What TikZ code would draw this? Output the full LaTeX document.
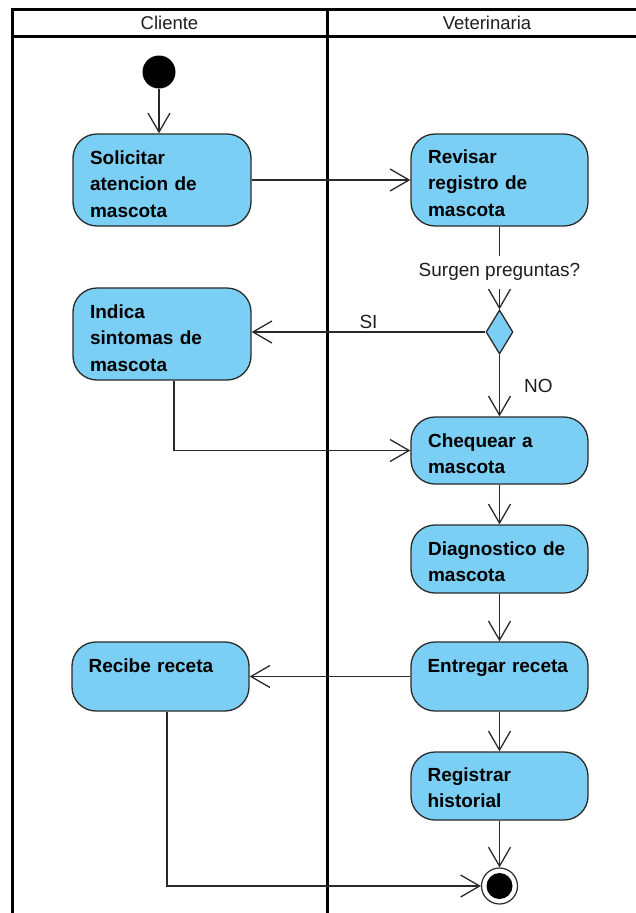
\documentclass[tikz,border=0pt]{standalone}
\usepackage{fontspec}
\setmainfont{Liberation Sans}
\usetikzlibrary{arrows.meta,shapes.geometric,calc}

\definecolor{actfill}{HTML}{7BCFF4}
\definecolor{edgegray}{HTML}{2A2A2A}
\definecolor{inkgray}{HTML}{1E1E1E}

\tikzset{
  lane/.style={line width=3pt, black, line join=miter},
  hdr/.style={inner sep=0pt, font=\fontsize{18.5}{22}\selectfont, text=inkgray},
  act/.style={draw=edgegray, line width=1.3pt, fill=actfill, rounded corners=24pt,
              inner sep=0pt, minimum width=177pt},
  acttext/.style={anchor=base west, inner sep=0pt, text width=150pt, align=left,
                  font=\bfseries\fontsize{19}{26.5}\selectfont, text=black},
  decision/.style={diamond, draw=edgegray, line width=1.3pt, fill=actfill,
                   inner sep=0pt, minimum width=27pt, minimum height=44pt},
  flow/.style={draw=edgegray, line width=1.3pt,
               -{Straight Barb[length=19pt,width=22pt,line width=1.3pt]}},
  guard/.style={inner sep=0pt, font=\fontsize{19}{22}\selectfont, text=inkgray},
}

\begin{document}
\begin{tikzpicture}[x=1pt,y=-1pt]
\useasboundingbox (0,0) rectangle (635,913);

% swimlanes
\draw[lane] (12,913) -- (12,9) -- (637,9);
\draw[lane] (12,36) -- (637,36);
\draw[lane] (327,9) -- (327,913);
\node[hdr] (hcli) at (169.5,22.5) {Cliente};
\node[hdr] (hvet) at (487,22.5) {Veterinaria};

% initial and final states
\node[circle, fill=black, minimum size=33pt, inner sep=0pt] (start) at (159,72) {};
\node[circle, draw=edgegray, fill=white, line width=1.2pt, minimum size=36pt, inner sep=0pt] (end) at (499.5,886) {};
\fill[black] (end.center) circle (13pt);

% activities
\node[act, minimum width=178pt, minimum height=92pt] (sol) at (162,180) {};
\node[act, minimum height=92pt] (rev) at (499.5,180) {};
\node[act, minimum width=178pt, minimum height=92pt] (ind) at (162,334) {};
\node[decision] (dec) at (499.5,332) {};
\node[act, minimum height=67pt] (cheq) at (499.5,450.5) {};
\node[act, minimum height=68pt] (diag) at (499.5,559) {};
\node[act, minimum height=69pt] (entr) at (499.5,676.5) {};
\node[act, minimum height=69pt] (rec) at (160.5,676.5) {};
\node[act, minimum height=68pt] (reg) at (499.5,786) {};

% activity texts
\node[acttext] (solt) at ([xshift=17.5pt,yshift=-31pt]sol.north west) {Solicitar\\atencion de\\mascota};
\node[acttext] (revt) at ([xshift=17.5pt,yshift=-30pt]rev.north west) {Revisar\\registro de\\mascota};
\node[acttext] (indt) at ([xshift=17.5pt,yshift=-31pt]ind.north west) {Indica\\sintomas de\\mascota};
\node[acttext] (cheqt) at ([xshift=17.5pt,yshift=-31pt]cheq.north west) {Chequear a\\mascota};
\node[acttext] (diagt) at ([xshift=17.5pt,yshift=-31pt]diag.north west) {Diagnostico de\\mascota};
\node[acttext] (entrt) at ([xshift=17pt,yshift=-31pt]entr.north west) {Entregar receta};
\node[acttext] (rect) at ([xshift=17pt,yshift=-31pt]rec.north west) {Recibe receta};
\node[acttext] (regt) at ([xshift=17pt,yshift=-30pt]reg.north west) {Registrar\\historial};

% control flows
\draw[flow] (start) -- (start |- sol.north);
\draw[flow] (sol) -- (rev);
\draw[flow] (rev.south) -- (dec.north)
  node[guard, pos=0.55, fill=white, inner xsep=2pt, inner ysep=8pt] (q) {Surgen preguntas?};
\draw[flow] (dec) -- (dec -| ind.east)
  node[guard, midway, above=3pt] (si) {SI};
\draw[flow] (dec) -- (cheq)
  node[guard, midway, right=24pt] (no) {NO};
\draw[flow] ([xshift=12pt]ind.south) |- (cheq);
\draw[flow] (cheq) -- (diag);
\draw[flow] (diag) -- (entr);
\draw[flow] (entr) -- (rec);
\draw[flow] (entr) -- (reg);
\draw[flow] (reg) -- (end);
\draw[flow] ([xshift=6.5pt]rec.south) |- (end);
\end{tikzpicture}
\end{document}
